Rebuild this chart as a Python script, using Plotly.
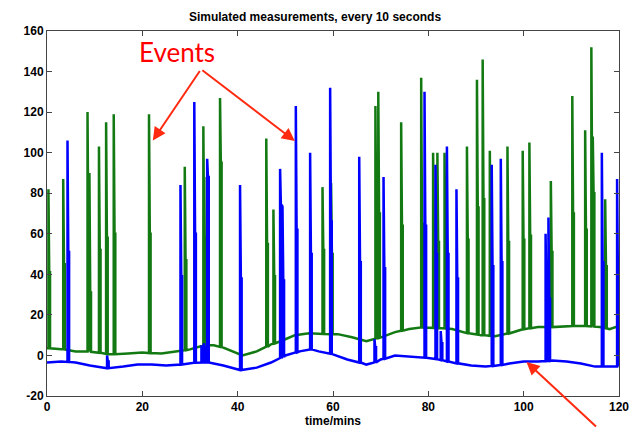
import plotly.graph_objects as go

# ---- slowly drifting baselines (minutes, value) ----
green_knot_t = [0, 3, 6, 10, 13, 17, 20, 24, 27, 30, 33, 35, 38, 41, 44, 47, 50, 52, 55, 58,
                61, 64, 67, 70, 73, 76, 79, 82, 85, 88, 91, 94, 97, 100, 103, 106, 110, 113,
                116, 118, 120]
green_knot_v = [3.5, 3, 2, 1.5, 0.5, 1, 1.5, 1, 2, 3, 5, 5, 3, 0, 2, 5.5, 8, 10, 11, 10.5,
                10.5, 9, 7, 9, 11.5, 13, 14, 13.5, 13, 11, 10, 9.5, 11, 13, 14, 14, 14.5, 14.5,
                14, 13, 14.5]

blue_knot_t = [0, 3, 6, 9, 13, 16, 19, 22, 25, 28, 31, 34, 37, 41, 44, 47, 50, 53, 55, 57,
               60, 63, 67, 70, 73, 76, 79, 82, 86, 89, 92, 94, 97, 100, 103, 106, 109, 112,
               115, 118, 120]
blue_knot_v = [-3.5, -3, -3.5, -5, -6.5, -5.5, -4.5, -4.5, -5, -4.5, -3.5, -3.5, -5, -7.5, -6,
               -3.5, 0, 2, 3, 2, 0.5, -2, -4.5, -2, 0, -0.5, -1, -2, -4, -5, -5.5, -5, -4, -3,
               -3, -2.5, -3, -4, -5.5, -5.5, -5.5]

# ---- events: onset time, foot level, peak sample, following samples ----
green_evt_t = [0.3, 3.4, 8.5, 8.9, 10.9, 12.4, 14.0, 21.4, 28.9, 32.8, 33.5, 36.3, 46.0, 47.5,
               57.8, 59.6, 68.9, 69.5, 74.3, 78.5, 81.0, 81.9, 83.4, 88.1, 90.2, 91.4, 92.9,
               96.6, 99.8, 101.2, 105.7, 110.2, 112.9, 114.2, 114.5, 117.1]
green_evt_foot = [3.5, 3, 2, 1.8, 1.3, 0.7, 0.6, 1.2, 2.6, 4.9, 5, 4.2, 4.3, 5.9,
                  10.6, 10.5, 8.3, 8.7, 12.2, 13.8, 13.6, 13.5, 13.3, 11, 10.3, 10, 9.7,
                  10.8, 12.9, 13.4, 14, 14.5, 14.5, 14.3, 14.2, 13.4]
green_evt_peak = [82, 87, 120, 90, 103, 115, 119, 119, 93, 113, 88, 127, 107, 72,
                  83, 85, 123, 130, 115, 137, 100, 100, 100, 103, 136, 146, 101,
                  103, 101, 105, 86, 128, 111, 152, 108, 77]
green_evt_next = [41, 45, 60, 31, 52, 58, 60, 60, 47, 58, 50, 95, 55, 39,
                  52, 50, 62, 70, 64, 65, 56, 56, 55, 57, 73, 77, 55,
                  56, 57, 59, 51, 70, 62, 83, 80, 44]

blue_evt_t = [4.3, 12.6, 28.0, 30.9, 32.4, 32.9, 33.6, 40.5, 48.9, 49.4, 52.2, 55.2, 59.4,
              65.5, 68.7, 70.6, 79.2, 81.5, 82.6, 83.9, 85.9, 93.3, 95.2, 104.6, 105.2,
              116.4, 119.6]
blue_evt_foot = [-3.2, -6.3, -4.5, -3.6, -3.5, -3.5, -3.5, -7.2, -1.3, -0.7, 1.5, 3, 0.8,
                 -3.5, -3.4, -1.6, -1.1, -1.8, -2.3, -3, -3.9, -5.2, -4.7, -2.8, -2.7,
                 -5.5, -5.5]
blue_evt_peak = [106, 0, 84, 125, 5, 6, 97, 84, 92, 74, 123, 100, 132,
                 98, 8, 88, 130, 94, 12, 103, 82, 94, 97, 60, 68,
                 100, 87]
blue_evt_next = [51, -3, 39, 60, 3, 4, 88, 38, 74, 37, 62, 50, 66,
                 46, 4, 43, 64, 50, 6, 50, 38, 44, 46, 28, 28,
                 46, 40]

SAMPLE = 1 / 6  # one sample every 10 seconds, in minutes

x_ticks = [0, 20, 40, 60, 80, 100, 120]
y_ticks = [-20, 0, 20, 40, 60, 80, 100, 120, 140, 160]


def build_series(knot_t, knot_v, evt_t, evt_foot, evt_peak, evt_next):
    pieces = []
    for t, v in zip(knot_t, knot_v):
        if any(-0.25 < t - e < 0.6 for e in evt_t):
            continue
        pieces.append((t, [(t, v)]))
    for t, f, p, n in zip(evt_t, evt_foot, evt_peak, evt_next):
        pieces.append((t, [(t, f), (t, p), (t + SAMPLE, n),
                           (t + 2 * SAMPLE, n), (t + 2 * SAMPLE, f)]))
    pieces.sort(key=lambda q: q[0])
    xs, ys = [], []
    for _, pts in pieces:
        for x, y in pts:
            xs.append(x)
            ys.append(y)
    return xs, ys


gx, gy = build_series(green_knot_t, green_knot_v, green_evt_t, green_evt_foot,
                      green_evt_peak, green_evt_next)
bx, by = build_series(blue_knot_t, blue_knot_v, blue_evt_t, blue_evt_foot,
                      blue_evt_peak, blue_evt_next)

fig = go.Figure()
fig.add_trace(go.Scatter(x=gx, y=gy, mode="lines",
                         line=dict(color="#137a13", width=2.5), showlegend=False))
fig.add_trace(go.Scatter(x=bx, y=by, mode="lines",
                         line=dict(color="#0000ff", width=2.5), showlegend=False))

tick_font = dict(family="Liberation Sans, Arial, sans-serif", size=12, color="black",
                 weight="bold")
axis_common = dict(showgrid=False, zeroline=False, showline=True, linecolor="#444444",
                   linewidth=1, mirror="allticks", ticks="inside", ticklen=5,
                   tickcolor="#444444", tickfont=tick_font, automargin=False)

fig.update_xaxes(range=[0, 120], tickvals=x_ticks, ticktext=[str(v) for v in x_ticks],
                 title=dict(text="time/mins", font=tick_font, standoff=4),
                 **axis_common)
fig.update_yaxes(range=[-20, 160], tickvals=y_ticks, ticktext=[str(v) for v in y_ticks],
                 **axis_common)

red = "#ff2a10"
arrow_common = dict(xref="x", yref="y", axref="pixel", ayref="pixel", text="",
                    showarrow=True, arrowhead=2, arrowsize=1.3, arrowwidth=2,
                    arrowcolor=red)
fig.update_layout(
    width=630, height=428,
    margin=dict(l=47, r=11, t=31, b=32),
    paper_bgcolor="white", plot_bgcolor="white",
    title=dict(text="Simulated measurements, every 10 seconds",
               x=0.5, xanchor="center", y=1 - 17 / 428, yanchor="middle",
               yref="container",
               font=dict(family="Liberation Sans, Arial, sans-serif", size=12,
                         color="black", weight="bold")),
    annotations=[
        dict(text="Events", xref="paper", yref="paper", x=0.227, y=0.942,
             xanchor="center", yanchor="middle", showarrow=False,
             font=dict(family="Lato, sans-serif", size=26, color="#ff0000")),
        dict(x=22.2, y=106, ax=48, ay=-71, **arrow_common),
        dict(x=52.0, y=105.7, ax=-94, ay=-72, **arrow_common),
        dict(x=100.6, y=-3.2, ax=71, ay=68, **arrow_common),
    ],
)

fig.write_html("out.html")
